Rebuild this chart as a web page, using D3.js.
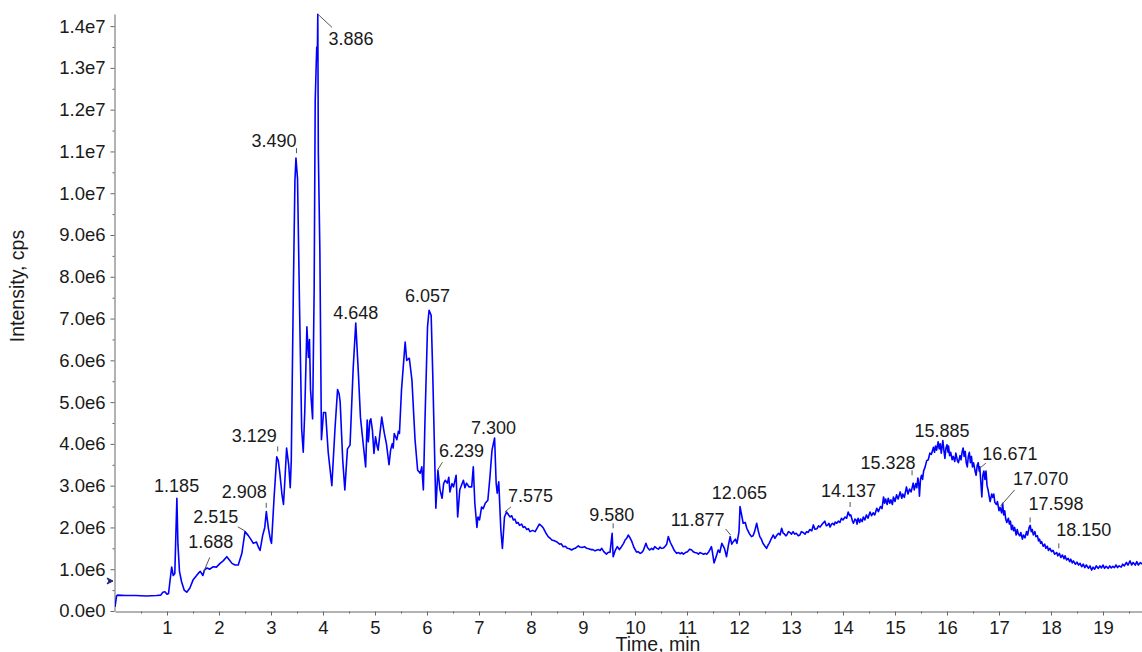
<!DOCTYPE html>
<html>
<head>
<meta charset="utf-8">
<script src="https://cdn.jsdelivr.net/npm/d3@7"></script>
<style>
  html, body { margin:0; padding:0; background:#fff; }
  svg { display:block; font-family:"Liberation Sans", Arial, sans-serif; }
</style>
</head>
<body>
<svg width="1142" height="652"></svg>
<script>
// TIC chromatogram · Intensity (cps) vs Time (min)

// ---------- data: [time min, intensity in 1e6 cps] ----------
const traceEarly = [
  [0.00,0.10],[0.03,0.36],[0.05,0.38],[0.20,0.37],[0.40,0.37],[0.60,0.36],[0.80,0.37],[0.88,0.38],[0.92,0.45],[0.96,0.46],
  [1.00,0.40],[1.03,0.42],[1.07,0.85],[1.09,1.05],[1.12,0.85],[1.15,0.90],[1.17,1.80],[1.19,2.70],[1.21,1.60],[1.24,0.95],
  [1.28,0.70],[1.33,0.50],[1.38,0.45],[1.44,0.55],[1.50,0.74],[1.55,0.82],[1.60,0.90],[1.64,0.95],[1.69,0.85],[1.72,0.98],
  [1.77,1.03],[1.82,1.00],[1.89,1.06],[1.95,1.05],[2.02,1.14],[2.08,1.20],[2.15,1.30],[2.20,1.22],[2.25,1.14],[2.31,1.10],
  [2.37,1.10],[2.44,1.38],[2.50,1.90],[2.56,1.81],[2.61,1.72],[2.66,1.62],[2.72,1.65],[2.76,1.52],[2.79,1.45],[2.84,1.81],
  [2.88,2.00],[2.91,2.38],[2.95,1.98],[2.99,1.70],[3.01,1.62],[3.06,2.73],[3.11,3.69],[3.14,3.60],[3.17,3.30],[3.21,2.80],
  [3.24,2.55],[3.27,3.20],[3.30,3.90],[3.34,3.50],[3.37,2.95],[3.39,3.60],[3.43,7.70],[3.46,10.30],[3.48,10.84],[3.51,10.35],
  [3.55,7.20],[3.59,4.35],[3.62,3.80],[3.65,4.80],[3.69,6.80],[3.72,6.07],[3.74,6.50],[3.76,5.30],[3.80,4.60],[3.83,7.70],
  [3.85,12.20],[3.87,13.10],[3.88,13.50],[3.89,13.20],[3.90,14.28],[3.91,11.00],[3.94,8.60],[3.97,4.10],[4.01,4.75],[4.05,4.75],
  [4.10,3.80],[4.17,3.00],[4.23,4.35],[4.28,5.30],[4.31,5.20],[4.33,5.00],[4.38,3.60],[4.42,2.90],[4.47,3.88],[4.52,3.97],
  [4.58,5.80],[4.63,6.89],[4.68,5.70],[4.72,4.64],[4.78,3.92],[4.82,3.45],[4.85,4.57],[4.87,4.05],[4.88,4.16],[4.90,4.55],
  [4.92,4.60],[4.95,4.33],[4.98,3.77],[5.01,4.17],[5.04,3.95],[5.06,3.85],[5.10,4.30],[5.13,4.64],[5.16,4.40],[5.18,4.25],
  [5.22,4.00],[5.27,3.50],[5.30,3.85],[5.33,4.00],[5.35,3.90],[5.37,4.25],[5.42,4.10],[5.45,4.30],[5.47,4.25],[5.51,5.30],
  [5.58,6.44],[5.61,6.00],[5.66,6.05],[5.71,5.53],[5.77,4.10],[5.82,3.37],[5.87,3.30],[5.90,3.45],[5.93,2.90],[5.96,4.50],
  [6.01,6.80],[6.04,7.20],[6.08,7.08],[6.11,5.70],[6.14,4.10],[6.17,2.46],[6.21,3.37],[6.25,2.90],[6.29,2.70],[6.32,3.05],
  [6.35,3.13],[6.39,3.06],[6.42,3.20],[6.44,2.85],[6.48,3.05],[6.51,2.97],[6.56,3.25],[6.59,2.25],[6.63,2.90],[6.66,3.00],
  [6.70,3.13],[6.73,2.95],[6.76,3.06],[6.81,2.97],[6.86,2.97],[6.89,3.45],[6.92,2.58],[6.96,2.00],[6.98,2.25],[7.01,2.18],
  [7.05,2.49],[7.08,2.45],[7.12,2.58],[7.17,2.65],[7.21,3.20],[7.25,3.85],[7.30,4.14],[7.33,3.06],[7.35,2.82],[7.38,3.09],
  [7.42,1.94],[7.45,1.50]
];
const traceMiddle = [
  [7.49,2.25],[7.53,2.37],[7.57,2.30],[7.60,2.25],[7.63,2.28],[7.66,2.18],[7.69,2.20],[7.72,2.10],[7.75,2.12],[7.78,2.05],
  [7.82,2.08],[7.85,2.00],[7.88,2.02],[7.92,1.95],[7.95,1.97],[7.98,1.90],[8.03,1.93],[8.08,1.90],[8.16,2.08],[8.20,2.04],
  [8.24,1.98],[8.28,1.88],[8.33,1.78],[8.37,1.74],[8.40,1.70],[8.45,1.68],[8.49,1.66],[8.55,1.60],[8.58,1.61],[8.62,1.54],
  [8.66,1.55],[8.70,1.50],[8.74,1.49],[8.78,1.46],[8.82,1.49],[8.85,1.50],[8.91,1.56],[8.94,1.53],[8.98,1.52],[9.03,1.54],
  [9.07,1.50],[9.11,1.49],[9.15,1.47],[9.19,1.47],[9.23,1.44],[9.27,1.46],[9.30,1.47],[9.33,1.45],[9.36,1.50],[9.40,1.42],
  [9.45,1.36],[9.48,1.40],[9.52,1.41],[9.56,1.86],[9.58,1.30],[9.62,1.45],[9.66,1.54],[9.70,1.47],[9.74,1.54],[9.78,1.62],
  [9.81,1.70],[9.84,1.74],[9.87,1.82],[9.90,1.76],[9.94,1.66],[9.98,1.52],[10.03,1.41],[10.06,1.42],[10.10,1.38],[10.13,1.40],
  [10.16,1.45],[10.21,1.62],[10.24,1.52],[10.28,1.46],[10.32,1.50],[10.35,1.47],[10.38,1.54],[10.42,1.50],[10.45,1.48],[10.48,1.53],
  [10.51,1.50],[10.55,1.51],[10.58,1.55],[10.61,1.60],[10.64,1.78],[10.68,1.64],[10.72,1.54],[10.76,1.44],[10.80,1.38],[10.84,1.40],
  [10.87,1.37],[10.90,1.40],[10.93,1.36],[10.97,1.40],[11.01,1.42],[11.05,1.48],[11.09,1.46],[11.12,1.42],[11.15,1.40],[11.19,1.39],
  [11.22,1.36],[11.25,1.40],[11.28,1.38],[11.32,1.36],[11.35,1.38],[11.38,1.36],[11.42,1.42],[11.47,1.54],[11.49,1.40],[11.52,1.15],
  [11.56,1.30],[11.60,1.46],[11.63,1.40],[11.67,1.62],[11.72,1.50],[11.76,1.30],[11.80,1.60],[11.83,1.78],[11.86,1.60],[11.89,1.66],
  [11.93,1.72],[11.96,1.62],[12.00,1.90],[12.02,2.50],[12.05,2.30],[12.08,2.10],[12.12,2.12],[12.15,1.98],[12.20,1.85],[12.24,1.78],
  [12.27,1.80],[12.30,1.90],[12.34,2.10],[12.37,1.92],[12.40,1.78],[12.43,1.72],[12.46,1.62],[12.50,1.55],[12.53,1.50],[12.56,1.58],
  [12.58,1.62],[12.61,1.70],[12.63,1.75],[12.66,1.82],[12.69,1.74],[12.72,1.80],[12.76,1.86],[12.79,1.82],[12.82,1.98],[12.85,1.86],
  [12.87,1.85],[12.90,1.80],[12.92,1.82],[12.95,1.90],[12.98,1.88],[13.01,1.84],[13.04,1.90],[13.07,1.84],[13.10,1.86],[13.14,1.80],
  [13.17,1.82],[13.20,1.90],[13.23,1.88],[13.27,1.84],[13.30,1.90],[13.33,1.88],[13.36,1.95],[13.40,1.92],[13.43,2.06],[13.46,1.96],
  [13.50,1.97],[13.53,2.04],[13.56,2.01],[13.60,2.08],[13.65,2.15],[13.68,2.04],[13.70,2.05],[13.73,2.10],[13.75,2.01],[13.78,2.08],
  [13.80,2.10],[13.83,2.06],[13.85,2.13],[13.88,2.10],[13.91,2.15],[13.94,2.12],[13.97,2.22],[14.00,2.18],[14.04,2.25],[14.07,2.22],
  [14.10,2.37],[14.13,2.28],[14.15,2.30],[14.18,2.16],[14.20,2.10],[14.23,2.20],[14.25,2.18],[14.27,2.08]
];
const traceLate = [
  [14.29,2.22],[14.32,2.12],[14.34,2.20],[14.37,2.14],[14.39,2.25],[14.42,2.18],[14.45,2.30],[14.48,2.22],[14.52,2.37],[14.55,2.28],
  [14.58,2.35],[14.61,2.30],[14.65,2.46],[14.68,2.38],[14.72,2.50],[14.75,2.45],[14.78,2.73],[14.80,2.58],[14.82,2.68],[14.85,2.55],
  [14.87,2.70],[14.90,2.58],[14.92,2.66],[14.95,2.55],[14.97,2.73],[15.00,2.62],[15.03,2.78],[15.06,2.68],[15.10,2.85],[15.13,2.70],
  [15.15,2.80],[15.18,2.72],[15.22,2.97],[15.25,2.80],[15.28,2.92],[15.31,2.85],[15.35,3.06],[15.37,2.90],[15.40,3.05],[15.42,2.95],
  [15.44,3.18],[15.46,3.00],[15.47,2.75],[15.49,3.15],[15.51,3.25],[15.53,3.15],[15.55,3.35],[15.58,3.45],[15.61,3.60],[15.64,3.62],
  [15.67,3.78],[15.70,3.75],[15.74,3.92],[15.76,3.80],[15.78,3.95],[15.80,3.85],[15.83,4.05],[15.85,3.88],[15.87,4.00],[15.89,3.78],
  [15.92,4.08],[15.94,3.85],[15.96,3.65],[15.98,3.90],[16.00,3.98],[16.02,3.80],[16.03,3.95],[16.05,3.72],[16.07,3.80],[16.10,3.62],
  [16.12,3.70],[16.15,3.58],[16.17,3.78],[16.20,3.60],[16.22,3.55],[16.25,3.72],[16.27,3.62],[16.29,3.80],[16.31,3.90],[16.33,3.70],
  [16.35,3.82],[16.37,3.55],[16.39,3.45],[16.41,3.70],[16.43,3.80],[16.45,3.55],[16.47,3.70],[16.49,3.45],[16.51,3.55],[16.54,3.35],
  [16.56,3.25],[16.58,3.48],[16.60,3.55],[16.62,3.35],[16.63,3.45],[16.65,3.10],[16.67,2.73],[16.69,3.25],[16.71,3.35],[16.73,3.15],
  [16.75,3.35],[16.77,3.00],[16.79,2.90],[16.81,2.75],[16.83,2.62],[16.86,2.80],[16.88,2.72],[16.90,2.80],[16.92,2.60],[16.95,2.55],
  [16.97,2.62],[17.00,2.40],[17.02,2.48],[17.05,2.35],[17.07,2.58],[17.09,2.30],[17.11,2.40],[17.13,2.20],[17.15,2.12],[17.18,2.22],
  [17.20,2.08],[17.22,2.15],[17.24,1.95],[17.26,2.05],[17.28,1.92],[17.30,2.00],[17.33,1.82],[17.35,1.95],[17.37,1.85],[17.40,1.80],
  [17.42,1.88],[17.45,1.72],[17.47,1.82],[17.50,1.75],[17.53,1.90],[17.55,1.82],[17.58,2.00],[17.60,2.05],[17.62,1.90],[17.64,1.95],
  [17.66,1.82],[17.69,1.90],[17.71,1.78],[17.74,1.80],[17.76,1.68],[17.78,1.72],[17.80,1.62],[17.82,1.66],[17.85,1.55],[17.88,1.60],
  [17.90,1.50],[17.93,1.55],[17.95,1.45],[17.98,1.50],[18.01,1.42],[18.04,1.45],[18.07,1.36],[18.11,1.40],[18.13,1.32],[18.16,1.38],
  [18.19,1.28],[18.22,1.34],[18.25,1.25],[18.27,1.32],[18.30,1.22],[18.33,1.26],[18.36,1.18],[18.38,1.24],[18.41,1.15],[18.43,1.20],
  [18.47,1.12],[18.50,1.17],[18.53,1.10],[18.56,1.14],[18.59,1.06],[18.62,1.12],[18.65,1.04],[18.68,1.10],[18.72,1.02],[18.75,1.08],
  [18.78,0.98],[18.81,1.05],[18.84,1.00],[18.87,1.08],[18.91,1.02],[18.94,1.08],[18.97,1.03],[19.00,1.10],[19.03,1.02],[19.06,1.07],
  [19.10,1.02],[19.13,1.08],[19.16,1.03],[19.19,1.07],[19.22,1.04],[19.25,1.10],[19.28,1.04],[19.31,1.08],[19.35,1.05],[19.38,1.12],
  [19.41,1.08],[19.45,1.16],[19.48,1.10],[19.52,1.20],[19.55,1.10],[19.58,1.16],[19.62,1.10],[19.65,1.18],[19.68,1.10],[19.72,1.16],
  [19.75,1.12]
];

// labelled peaks: retention time text + apex height (1e6 cps)
const peakLabels  = ["1.185","1.688","2.515","2.908","3.129","3.490","3.886","4.648","6.057","6.239","7.300",
                     "7.575","9.580","11.877","12.065","14.137","15.328","15.885","16.671","17.070","17.598","18.150"];
const peakHeights = [2.70,0.90,1.92,2.35,3.70,10.84,14.28,6.90,7.20,3.37,4.14,
                     2.30,1.86,1.70,2.50,2.37,3.13,4.05,3.42,2.42,2.00,1.38];

const xTicks = d3.range(1, 20);                    // 1 .. 19 min
const yTicks = d3.range(0, 15).map(d => d * 1e6);  // 0 .. 1.4e7
const yMinor = d3.range(0.5, 14.5, 1).map(d => d * 1e6);
const xMinor = d3.range(0.5, 19.75, 1);

// ---------- layout ----------
const svg = d3.select("svg");
const X0 = 115, X1 = 1142, Y0 = 611, Y1 = 14;
const FS = 18;

const x = d3.scaleLinear().domain([0, 19.75]).range([X0, X1]);
const y = d3.scaleLinear().domain([0, 14.29e6]).range([Y0, Y1]);

const fmt = v => d3.format(".1e")(v).replace("+", "");

// axes
svg.append("g").attr("transform", `translate(0,${Y0 + 0.5})`)
  .call(d3.axisBottom(x).tickValues(xTicks).tickFormat(d3.format("d")).tickSize(4).tickPadding(5).tickSizeOuter(0));
svg.append("g").attr("transform", `translate(0,${Y0 + 0.5})`)
  .call(d3.axisBottom(x).tickValues(xMinor).tickFormat("").tickSize(2).tickSizeOuter(0))
  .select(".domain").remove();

svg.append("g").attr("transform", `translate(${X0 - 0.5},0)`)
  .call(d3.axisLeft(y).tickValues(yTicks).tickFormat(fmt).tickSize(4).tickPadding(5).tickSizeOuter(0));
svg.append("g").attr("transform", `translate(${X0 - 0.5},0)`)
  .call(d3.axisLeft(y).tickValues(yMinor).tickFormat("").tickSize(2).tickSizeOuter(0))
  .select(".domain").remove();

svg.selectAll(".domain, .tick line").attr("stroke", "#666");
svg.selectAll(".tick text").attr("font-size", 18.5).attr("fill", "#1a1a1a")
  .attr("font-family", "Liberation Sans, Arial, sans-serif");

// axis titles
svg.append("text").attr("x", 658).attr("y", 651).attr("text-anchor", "middle")
  .attr("font-size", 19.5).attr("fill", "#1a1a1a").text("Time, min");
svg.append("text").attr("transform", "translate(24,286) rotate(-90)").attr("text-anchor", "middle")
  .attr("font-size", 19.5).attr("fill", "#1a1a1a").text("Intensity, cps");

// small marker arrow on the y axis
svg.append("path").attr("d", "M107,578 L113,581 L107,584 L109,581 Z").attr("fill", "#1a237e")
  .attr("stroke", "#1a237e").attr("stroke-width", 1);

// ---------- trace ----------
svg.append("clipPath").attr("id", "plot").append("rect")
  .attr("x", X0).attr("y", 0).attr("width", X1 - X0).attr("height", Y0 + 1);

const pts = traceEarly.concat(traceMiddle, traceLate);
svg.append("path").datum(pts).attr("clip-path", "url(#plot)")
  .attr("fill", "none").attr("stroke", "#0000ff").attr("stroke-width", 1.6)
  .attr("stroke-linejoin", "round")
  .attr("d", d3.line().x(d => x(d[0])).y(d => y(d[1] * 1e6)));

// ---------- peak labels ----------
// [text dx, baseline dy, leader] relative to apex; leader: "tick" | [x1,y1,x2,y2] | null
const labelLayout = [
  [0, -6, null], [8, -25, [1,-2,7,-16]], [-30, -8, [-1,0,-8,-4]], [-22, -15, "tick"], [-23.5, -14, "tick"],
  [-22.5, -11.5, "tick"], [34, 30.5, [1,0,15,13]], [-1, -4, null], [-2.5, -8, null], [22, -13.5, [-2,0,3,-8]],
  [-1, -4.5, null], [21.6, -13.4, [-4,-3,2,-8]], [-1.5, -12, "tick"], [-35, -13.5, [-7,-11,-2,-5]], [-3, -7.5, null],
  [-1.5, -14.5, "tick"], [-24, -11.5, "tick"], [1, -5, null], [28, -8.5, [-2,0,4,-5]], [38, -24.5, [-2,-4,12,-20]],
  [26, -17, "tick"], [25, -17, "tick"]
];

const lab = svg.append("g");
peakLabels.forEach((txt, i) => {
  const ax = x(+txt), ay = y(peakHeights[i] * 1e6);
  const [dx, dy, ld] = labelLayout[i];
  lab.append("text").attr("x", ax + dx).attr("y", ay + dy).attr("text-anchor", "middle")
    .attr("font-size", FS).attr("fill", "#1a1a1a").text(txt);
  if (ld === "tick") {
    lab.append("line").attr("x1", ax).attr("x2", ax).attr("y1", ay - 10).attr("y2", ay - 5)
      .attr("stroke", "#555").attr("stroke-width", 1);
  } else if (ld) {
    lab.append("line").attr("x1", ax + ld[0]).attr("y1", ay + ld[1]).attr("x2", ax + ld[2]).attr("y2", ay + ld[3])
      .attr("stroke", "#555").attr("stroke-width", 1);
  }
});
</script>
</body>
</html>
